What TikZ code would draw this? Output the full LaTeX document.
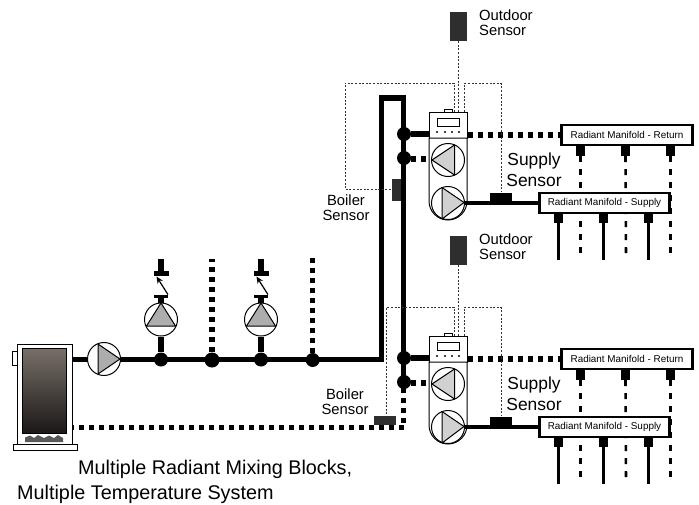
\documentclass[tikz,border=0pt]{standalone}
\usepackage{fontspec}
\setmainfont{Liberation Sans}
\usetikzlibrary{arrows.meta}
\definecolor{tanktop}{HTML}{787068}
\definecolor{tankbot}{HTML}{1C1818}
\tikzset{
  x=1pt,y=-1pt,
  pipe/.style={line width=5.4pt,line cap=butt,line join=miter},
  retpipe/.style={line width=5.2pt,dash pattern=on 5pt off 5pt,line cap=butt},
  ctrlwire/.style={line width=1pt,dash pattern=on 2pt off 1.6pt,draw=black!80},
  branch/.style={line width=2.6pt},
  branchret/.style={line width=2.6pt,dash pattern=on 6pt off 7pt},
  junction/.style={circle,fill=black,inner sep=0pt,minimum size=14pt},
  pumpring/.style={circle,draw=black,line width=1pt,fill=white,inner sep=0pt,minimum size=33pt},
  stub/.style={rectangle,fill=black,inner sep=0pt,minimum width=9pt,minimum height=10pt},
  sensorbox/.style={rectangle,fill=black!82,inner sep=0pt},
  manifold/.style={rectangle,draw=black,line width=2.6pt,fill=white,inner sep=0pt,font=\fontsize{9.9}{11}\selectfont},
  lbl/.style={inner sep=0pt,align=left,font=\fontsize{14.8}{15}\selectfont},
  lblb/.style={inner sep=0pt,align=center,font=\fontsize{14.8}{15.5}\selectfont},
  lblc/.style={inner sep=0pt,align=center,font=\fontsize{17.4}{21}\selectfont},
  ttl/.style={inner sep=0pt,anchor=base west,font=\fontsize{19.8}{24}\selectfont},
}
\newcommand{\MixBlock}[2]{%
\begin{scope}[yshift=-#2pt]
  % manifold branches (behind the manifolds)
  \node[manifold,minimum width=131pt,minimum height=20pt] (#1ret) at (627,135) {Radiant Manifold - Return};
  \node[stub] (#1ra) at (580.5,151) {};
  \node[stub] (#1rb) at (625.5,151) {};
  \node[stub] (#1rc) at (670.5,151) {};
  \coordinate (#1rae) at (580.5,260);
  \coordinate (#1rbe) at (626,260);
  \coordinate (#1rce) at (670.5,260);
  \draw[branchret] (#1ra.south) -- (#1rae);
  \draw[branchret] (#1rb.south) -- (#1rbe);
  \draw[branchret] (#1rc.south) -- (#1rce);
  \node[manifold,minimum width=130pt,minimum height=20pt] (#1sup) at (604.5,203) {Radiant Manifold - Supply};
  \node[stub] (#1sa) at (558.5,218) {};
  \node[stub] (#1sb) at (603.5,218) {};
  \node[stub] (#1sc) at (648.5,218) {};
  \coordinate (#1sae) at (558.5,260);
  \coordinate (#1sbe) at (603.5,260);
  \coordinate (#1sce) at (648.5,260);
  \draw[branch] (#1sa.south) -- (#1sae);
  \draw[branch] (#1sb.south) -- (#1sbe);
  \draw[branch] (#1sc.south) -- (#1sce);
  % controller
  \node[rectangle,draw=black,line width=1pt,fill=white,inner sep=0pt,minimum width=38pt,minimum height=26pt] (#1ctl) at (448,125) {};
  \filldraw[draw=black,fill=white,line width=1pt] (429,138) -- (467,138) -- (467,201) arc[start angle=0,end angle=-180,radius=19pt] -- cycle;
  \node[rectangle,draw=black,line width=1pt,fill=white,inner sep=0pt,minimum width=22pt,minimum height=8pt] (#1dsp) at (448,122) {};
  \node[rectangle,draw=black,line width=.6pt,fill=white,inner sep=0pt,minimum width=8pt,minimum height=3pt] (#1knb) at (448,110.5) {};
  \foreach \dx in {437,445,452,459} \fill (\dx,132) circle[radius=1.1pt];
  % pumps
  \node[pumpring] (#1pu) at (448,160) {};
  \filldraw[draw=black,fill=black!18,line width=1pt,line join=round] (432,160) -- (454.5,145) -- (454.5,175) -- cycle;
  \node[pumpring] (#1pl) at (448,203) {};
  \filldraw[draw=black,fill=black!18,line width=1pt,line join=round] (442,187.5) -- (442,219) -- (464,202.5) -- cycle;
  % piping
  \node[junction] (#1ja) at (404,134) {};
  \node[junction] (#1jb) at (404,158) {};
  \draw[pipe] (#1ja) -- (#1ja -| #1ctl.west);
  \draw[retpipe] (#1ctl.east |- 0,135) -- (#1ret.west |- 0,135);
  \draw[retpipe] (#1jb.east) ++(0,1) -- (#1pu.west |- 0,159);
  \draw[line width=4pt] (#1pl.east |- 0,202.5) -- (#1sup.west |- 0,202.5);
  \node[rectangle,fill=black,inner sep=0pt,minimum width=22pt,minimum height=11pt] (#1ss) at (501,198) {};
  % control wires
  \coordinate (#1wb) at (464,112);
  \coordinate (#1wc) at (464,83.5);
  \coordinate (#1wd) at (501,83.5);
  \draw[ctrlwire] (#1wb) -- (#1wc) -- (#1wd) -- (#1ss.north);
  % texts
  \node[lblc] (#1st) at (534,169.5) {Supply\\Sensor};
  \node[sensorbox,minimum width=17pt,minimum height=29pt] (#1od) at (458.5,26.5) {};
  \node[lbl,anchor=west] (#1odt) at (479,22.5) {Outdoor\\Sensor};
  \draw[ctrlwire,line width=1.3pt] (#1od.south) -- (#1od.south |- 0,112);
\end{scope}}
\begin{document}
\begin{tikzpicture}
\useasboundingbox (0,0) rectangle (699,504);
\fill[white] (0,0) rectangle (699,504);
% riser and return piping
\coordinate (rta) at (381.7,359.5);
\coordinate (rtb) at (381.7,98);
\coordinate (rtc) at (403.7,98);
\coordinate (rbd) at (403.7,427.5);
\coordinate (sup) at (72,359.5);
\coordinate (rtn) at (72.5,427.5);
\draw[pipe] (sup) -- (rta) -- (rtb) -- (rtc) -- (403.7,383);
\draw[retpipe] (rbd) -- (rtn);
\draw[retpipe] (403.7,388) -- (rbd);
% boiler
\node[rectangle,draw=black,line width=1pt,fill=white,inner sep=0pt,minimum width=5pt,minimum height=14pt] (tab) at (14.5,358) {};
\node[rectangle,draw=black,line width=1pt,fill=white,inner sep=0pt,minimum width=55pt,minimum height=100pt] (boiler) at (44.5,394) {};
\node[rectangle,draw=black,line width=1pt,fill=white,inner sep=0pt,minimum width=64pt,minimum height=6pt] (base) at (45,447) {};
\node[rectangle,draw=black,line width=.8pt,top color=tanktop,bottom color=tankbot,inner sep=0pt,minimum width=44pt,minimum height=85pt] (tank) at (44.5,390.5) {};
\fill[black!65] (25,442) -- (25,437.5) -- (30,435.5) -- (34,438) -- (38,435) -- (44,438) -- (49,435.5) -- (54,438) -- (58,435) -- (63,438) -- (63,442) -- cycle;
% primary pump
\node[pumpring] (pp) at (104,359) {};
\filldraw[draw=black,fill=black!32,line width=1pt,line join=round] (98,344) -- (98,374) -- (120,359) -- cycle;
% junctions on the main
\node[junction] (j1) at (161,359.5) {};
\node[junction,minimum size=15pt] (j2) at (212,360) {};
\node[junction] (j3) at (261,359.5) {};
\node[junction] (j4) at (312.7,360) {};
\coordinate (d2) at (212,259);
\coordinate (d4) at (312.7,256);
\draw[retpipe] (j2) -- (d2);
\draw[retpipe] (j4) -- (d4);
% zone pumps
\foreach \nm/\px/\jn in {za/161/j1,zb/261/j3}{
  \node[pumpring] (\nm p) at (\px,319.5) {};
  \filldraw[draw=black,fill=black!32,line width=1pt,line join=round] (\px-14.5,326) -- (\px,303) -- (\px+14.5,326) -- cycle;
  \draw[pipe] (\jn) -- (\nm p.south);
  \node[rectangle,fill=black,inner sep=0pt,minimum width=13.5pt,minimum height=3.5pt] (\nm l) at (\px,296.5) {};
  \draw[pipe] (\nm l.south) -- (\nm p.north);
  \node[rectangle,fill=black,inner sep=0pt,minimum width=15pt,minimum height=5pt] (\nm u) at (\px+.5,273.5) {};
  \coordinate (\nm t) at (\px,259);
  \draw[pipe] (\nm u.north -| \nm t) -- (\nm t);
  \draw[line width=1.2pt,-{Stealth[length=7pt,width=6pt]}] (\nm l.north east) -- (\px-4.5,276.5);
}
\MixBlock{a}{0}
\MixBlock{b}{224}
% boiler sensors and their wires
\node[sensorbox,minimum width=9pt,minimum height=22pt] (bsa) at (396.5,190) {};
\node[sensorbox,minimum width=22pt,minimum height=9pt] (bsb) at (385,420.5) {};
\coordinate (wa1) at (454,112);
\coordinate (wa2) at (454,83);
\coordinate (wa3) at (345,83);
\coordinate (wa4) at (345,189);
\draw[ctrlwire] (wa1) -- (wa2) -- (wa3) -- (wa4) -- (bsa.west |- wa4);
\coordinate (wb1) at (454,336);
\coordinate (wb2) at (454,307);
\coordinate (wb3) at (386.7,307);
\draw[ctrlwire] (wb1) -- (wb2) -- (wb3) -- (wb3 |- bsb.north);
\node[lblb] (bla) at (346,207.5) {Boiler\\Sensor};
\node[lblb] (blb) at (345,401.5) {Boiler\\Sensor};
% title
\node[ttl] (t1) at (78,474.5) {Multiple Radiant Mixing Blocks,};
\node[ttl] (t2) at (17,499) {Multiple Temperature System};
\end{tikzpicture}
\end{document}
